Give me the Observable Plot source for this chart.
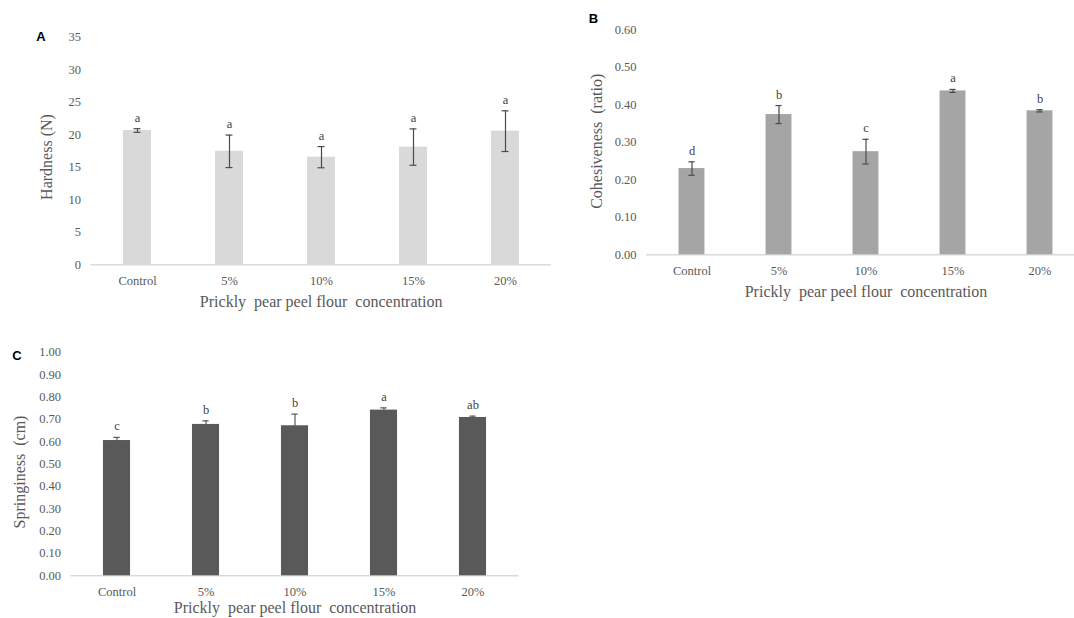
<!DOCTYPE html>
<html><head><meta charset="utf-8">
<script src="https://cdn.jsdelivr.net/npm/d3@7"></script>
<script src="https://cdn.jsdelivr.net/npm/@observablehq/plot@0.6"></script>
<style>
html,body{margin:0;padding:0;background:#fff;overflow:hidden;}
#wrap{position:relative;width:1074px;height:618px;overflow:hidden;background:#fff;}
.panel{position:absolute;}
svg text{white-space:pre;}
</style></head><body><div id="wrap"></div>
<script>
// ---- data ----
const concentrations = ["Control", "5%", "10%", "15%", "20%"];
const xTitle = "Prickly  pear peel flour  concentration";

const hardness = [20.65, 17.45, 16.55, 18.1, 20.55];
const hardnessErr = [0.28, 2.5, 1.63, 2.8, 3.13];
const hardnessLetters = ["a", "a", "a", "a", "a"];
const hardnessTicks = [0, 5, 10, 15, 20, 25, 30, 35];

const cohesiveness = [0.230, 0.374, 0.275, 0.437, 0.384];
const cohesivenessErr = [0.018, 0.024, 0.033, 0.004, 0.003];
const cohesivenessLetters = ["d", "b", "c", "a", "b"];
const cohesivenessTicks = [0, 0.1, 0.2, 0.3, 0.4, 0.5, 0.6];

const springiness = [0.605, 0.677, 0.671, 0.741, 0.708];
const springinessErr = [0.014, 0.016, 0.052, 0.010, 0.006];
const springinessLetters = ["c", "b", "b", "a", "ab"];
const springinessTicks = [0, 0.1, 0.2, 0.3, 0.4, 0.5, 0.6, 0.7, 0.8, 0.9, 1.0];

// ---- drawing ----
const SERIF = "'Liberation Serif', 'Times New Roman', serif";
function panel(c) {
  const data = concentrations.map((k, i) => ({k, v: c.values[i], e: c.err[i], lab: c.letters[i]}));
  const step = (c.width - c.ml - c.mr) / concentrations.length;
  const barInset = (step - c.barW) / 2;
  const capInset = (step - 7) / 2;
  const marks = [
    Plot.ruleY([0], {stroke: "#d9d9d9", strokeWidth: 1.4}),
    Plot.barY(data, {x: "k", y: "v", fill: c.fill, insetLeft: barInset, insetRight: barInset}),
    Plot.ruleX(data, {x: "k", y1: d => d.v - d.e, y2: d => d.v + d.e, stroke: c.errColor, strokeWidth: 1.2}),
    Plot.tickY(data, {x: "k", y: d => d.v + d.e, stroke: c.errColor, strokeWidth: 1.2, inset: capInset}),
    Plot.tickY(data, {x: "k", y: d => d.v - d.e, stroke: c.errColor, strokeWidth: 1.2, inset: capInset}),
    Plot.text(data, {x: "k", y: d => d.v + d.e, text: "lab", dy: -11, fill: "#404040", fontSize: 12.5}),
    Plot.axisY({ticks: c.ticks, tickFormat: c.fmt, tickSize: 0, tickPadding: 10, color: "#595959", label: null, fontSize: 12.5}),
    Plot.axisX({tickSize: 0, tickPadding: 11, color: "#595959", label: null, fontSize: 12.5}),
    Plot.text([xTitle], {frameAnchor: "bottom", textAnchor: "middle", lineAnchor: "middle", dy: c.xdy, fontSize: 16, fill: "#595959"}),
    Plot.text([c.yTitle], {frameAnchor: "left", textAnchor: "middle", lineAnchor: "middle", dx: c.ydx, dy: c.ydy, rotate: -90, fontSize: 16, fill: "#595959"}),
    Plot.text([c.tag], {frameAnchor: "top-left", textAnchor: "middle", lineAnchor: "middle", dx: c.tagdx, dy: c.tagdy, fontSize: 13, fontWeight: "bold", fontFamily: "'Liberation Sans', Arial, sans-serif", fill: "#000"})
  ];
  const svg = Plot.plot({
    width: c.width, height: c.height,
    marginLeft: c.ml, marginRight: c.mr, marginTop: c.mt, marginBottom: c.mb,
    x: {type: "band", domain: concentrations, padding: 0},
    y: {domain: c.domain},
    style: {background: "transparent", overflow: "visible", maxWidth: "none", fontFamily: SERIF, fontSize: "12.5px"},
    marks
  });
  const div = document.createElement("div");
  div.className = "panel";
  div.style.left = c.left + "px";
  div.style.top = c.top + "px";
  div.appendChild(svg);
  document.getElementById("wrap").appendChild(div);
}

panel({
  left: 0, top: 0, width: 560, height: 320,
  ml: 90.5, mr: 9.2, mt: 36.7, mb: 55.7,
  values: hardness, err: hardnessErr, letters: hardnessLetters,
  ticks: hardnessTicks, fmt: d3.format("d"), domain: [0, 35],
  fill: "#d9d9d9", errColor: "#4a4a4a", barW: 28,
  yTitle: "Hardness (N)", xdy: 37.4, ydx: -44.5, ydy: 6,
  tag: "A", tagdx: -50, tagdy: 0
});

panel({
  left: 540, top: 0, width: 545, height: 310,
  ml: 106, mr: 0, mt: 29.3, mb: 55.7,
  values: cohesiveness, err: cohesivenessErr, letters: cohesivenessLetters,
  ticks: cohesivenessTicks, fmt: d3.format(".2f"), domain: [0, 0.6],
  fill: "#a5a5a5", errColor: "#4a4a4a", barW: 26.7,
  yTitle: "Cohesiveness  (ratio)", xdy: 37.4, ydx: -50, ydy: -1,
  tag: "B", tagdx: -53, tagdy: -11
});

panel({
  left: 0, top: 330, width: 540, height: 288,
  ml: 70.5, mr: 21.4, mt: 21.7, mb: 42.7,
  values: springiness, err: springinessErr, letters: springinessLetters,
  ticks: springinessTicks, fmt: d3.format(".2f"), domain: [0, 1],
  fill: "#595959", errColor: "#595959", barW: 27.7,
  yTitle: "Springiness  (cm)", xdy: 32.5, ydx: -51.5, ydy: 8,
  tag: "C", tagdx: -54, tagdy: 3.3
});
</script>
</body></html>
